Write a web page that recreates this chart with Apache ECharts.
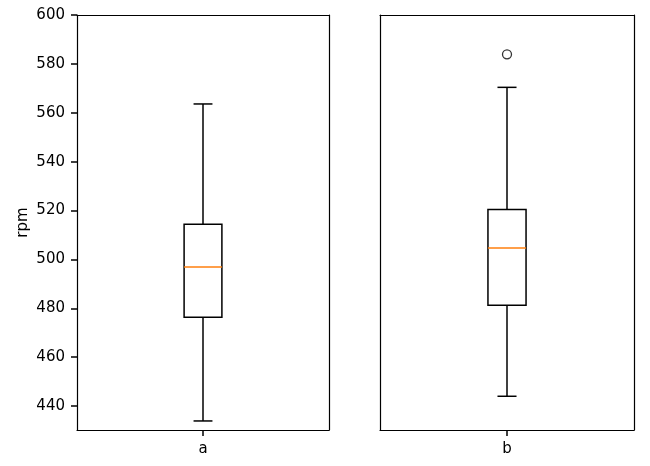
<!DOCTYPE html>
<html>
<head>
<meta charset="utf-8">
<script src="https://cdn.jsdelivr.net/npm/echarts@6/dist/echarts.min.js"></script>
<style>html,body{margin:0;padding:0;background:#fff;}#c{width:650px;height:466px;}</style>
</head>
<body>
<div id="c"></div>
<script>
// ---- data ----
const categoriesA = ['a'];
const categoriesB = ['b'];
// [min whisker, Q1, median, Q3, max whisker]
const statsA = [433.9, 476.3, 496.9, 514.4, 563.6];
const statsB = [444.0, 481.2, 504.7, 520.4, 570.4];
const outliersB = [583.9];
const yTicks = [440, 460, 480, 500, 520, 540, 560, 580, 600];
const yMin = 430.2, yMax = 600;
const yName = 'rpm';

const FONT = 'DejaVu Sans';
const FS = 15;

function renderBox(params, api) {
  const x = api.value(0);
  const bandW = api.size([1, 0])[0];
  const bw = bandW * 0.15;
  const cw = bw / 2;
  const pMin = api.coord([x, api.value(1)]);
  const pQ1 = api.coord([x, api.value(2)]);
  const pMed = api.coord([x, api.value(3)]);
  const pQ3 = api.coord([x, api.value(4)]);
  const pMax = api.coord([x, api.value(5)]);
  const cx = pMed[0];
  const ls = {stroke: '#000', lineWidth: 1.5, fill: null};
  return {
    type: 'group',
    children: [
      {type: 'rect', shape: {x: cx - bw / 2, y: pQ3[1], width: bw, height: pQ1[1] - pQ3[1]}, style: {stroke: '#000', lineWidth: 1.5, fill: 'transparent'}},
      {type: 'line', shape: {x1: cx, y1: pQ3[1], x2: cx, y2: pMax[1]}, style: ls},
      {type: 'line', shape: {x1: cx, y1: pQ1[1], x2: cx, y2: pMin[1]}, style: ls},
      {type: 'line', shape: {x1: cx - cw / 2, y1: pMax[1], x2: cx + cw / 2, y2: pMax[1]}, style: ls},
      {type: 'line', shape: {x1: cx - cw / 2, y1: pMin[1], x2: cx + cw / 2, y2: pMin[1]}, style: ls},
      {type: 'line', shape: {x1: cx - bw / 2, y1: pMed[1], x2: cx + bw / 2, y2: pMed[1]}, style: {stroke: '#ff7f0e', lineWidth: 1.5}}
    ]
  };
}

function xAxis(idx, cats) {
  return {
    type: 'category', gridIndex: idx, data: cats, boundaryGap: true,
    axisLine: {show: true, lineStyle: {color: '#000', width: 1.2}},
    axisTick: {show: true, alignWithLabel: true, length: 6, lineStyle: {color: '#000', width: 1.5}},
    axisLabel: {show: true, margin: 12, color: '#000', fontFamily: FONT, fontSize: FS},
    splitLine: {show: false}
  };
}
function yAxis(idx, showLabels) {
  return {
    type: 'value', gridIndex: idx, min: yMin, max: yMax,
    name: showLabels ? yName : '', nameLocation: 'middle', nameRotate: 90, nameGap: 46,
    nameTextStyle: {color: '#000', fontFamily: FONT, fontSize: FS},
    axisLine: {show: true, lineStyle: {color: '#000', width: 1.2}},
    axisTick: {show: showLabels, length: 6, customValues: yTicks, lineStyle: {color: '#000', width: 1.5}},
    axisLabel: {show: showLabels, margin: 12, customValues: yTicks, color: '#000', fontFamily: FONT, fontSize: FS},
    splitLine: {show: false}
  };
}
function frameX(idx, cats) {
  return {type: 'category', gridIndex: idx, data: cats, position: 'top',
    axisLine: {show: true, lineStyle: {color: '#000', width: 1.2}}, axisTick: {show: false}, axisLabel: {show: false}};
}
function frameY(idx) {
  return {type: 'value', gridIndex: idx, min: yMin, max: yMax, position: 'right',
    axisLine: {show: true, lineStyle: {color: '#000', width: 1.2}}, axisTick: {show: false}, axisLabel: {show: false}, splitLine: {show: false}};
}

const chart = echarts.init(document.getElementById('c'), null, {renderer: 'canvas'});
chart.setOption({
  animation: false,
  backgroundColor: '#fff',
  grid: [
    {left: 77, right: 321, top: 15, bottom: 36},
    {left: 380, right: 16, top: 15, bottom: 36}
  ],
  xAxis: [xAxis(0, categoriesA), xAxis(1, categoriesB), frameX(0, categoriesA), frameX(1, categoriesB)],
  yAxis: [yAxis(0, true), yAxis(1, false), frameY(0), frameY(1)],
  series: [
    {type: 'custom', xAxisIndex: 0, yAxisIndex: 0, renderItem: renderBox,
     encode: {x: 0, y: [1, 2, 3, 4, 5]},
     data: categoriesA.map((c, i) => [i].concat(statsA))},
    {type: 'custom', xAxisIndex: 1, yAxisIndex: 1, renderItem: renderBox,
     encode: {x: 0, y: [1, 2, 3, 4, 5]},
     data: categoriesB.map((c, i) => [i].concat(statsB))},
    {type: 'scatter', xAxisIndex: 1, yAxisIndex: 1, symbol: 'circle', symbolSize: 9,
     itemStyle: {color: 'rgba(255,255,255,0)', borderColor: '#000', borderWidth: 1.3},
     data: outliersB.map(v => [0, v])}
  ]
});
</script>
</body>
</html>
